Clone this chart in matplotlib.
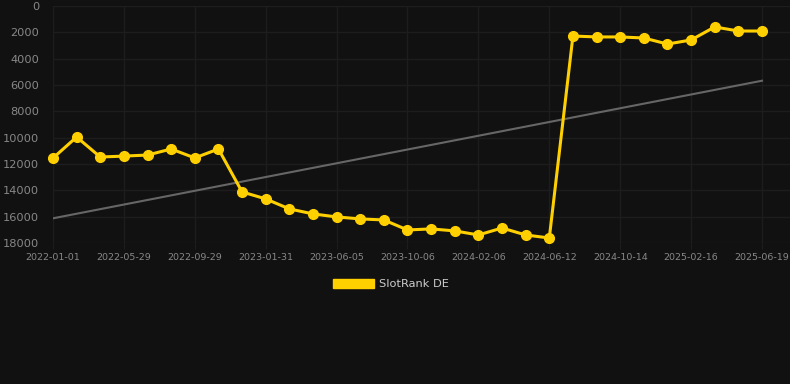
import matplotlib

matplotlib.use("Agg")
import matplotlib.pyplot as plt
import numpy as np
from matplotlib.patches import Patch

# rank per sampled date (lower is better, axis inverted)
RANKS = [
    11550, 9950, 11470, 11400, 11320, 10860, 11540, 10860,
    14120, 14650, 15410, 15790, 16020, 16170, 16250, 17010,
    16930, 17080, 17390, 16860, 17390, 17620,
    2280, 2350, 2350, 2430, 2890, 2580, 1590, 1900, 1900,
]
TICK_LABELS = [
    "2022-01-01", "2022-05-29", "2022-09-29", "2023-01-31",
    "2023-06-05", "2023-10-06", "2024-02-06", "2024-06-12",
    "2024-10-14", "2025-02-16", "2025-06-19",
]
SERIES_NAME = "SlotRank DE"

BG = "#111111"
GRID = "#1d1d1d"
TEXT = "#888888"
YELLOW = "#FFD000"

x = np.arange(len(RANKS))
slope, intercept = np.polyfit(x, RANKS, 1)
trend = slope * x + intercept

fig = plt.figure(figsize=(7.9, 3.84), dpi=100, facecolor=BG)
ax = fig.add_axes([53 / 790, 1 - 243 / 384, 1 - 53 / 790, (243 - 6) / 384])
ax.set_facecolor(BG)

ax.plot(x, trend, color="#666666", linewidth=1.5, zorder=2)
ax.plot(x, RANKS, color=YELLOW, linewidth=2.2, marker="o", markersize=7,
        zorder=3, clip_on=False)

ax.set_ylim(18000, 0)
ax.set_yticks(range(0, 18001, 2000))
ax.set_xlim(0, 30 + 28 / 23.63)
ax.set_xticks(range(0, len(RANKS), 3))
ax.set_xticklabels(TICK_LABELS)

ax.grid(True, color=GRID, linewidth=1)
ax.set_axisbelow(True)
for side in ax.spines.values():
    side.set_visible(False)
ax.tick_params(axis="y", length=0, pad=10, labelsize=8.2, colors=TEXT)
ax.tick_params(axis="x", length=4, color=GRID, pad=3, labelsize=6.8,
               colors=TEXT)

handle = Patch(facecolor=YELLOW, edgecolor=YELLOW)
fig.legend([handle], [SERIES_NAME], loc="center", bbox_to_anchor=(0.495, 1 - 284 / 384),
           frameon=False, fontsize=8.2, labelcolor="#cccccc",
           handlelength=3.6, handleheight=0.9, handletextpad=0.5)

fig.savefig("out.png", dpi=100, facecolor=BG)
